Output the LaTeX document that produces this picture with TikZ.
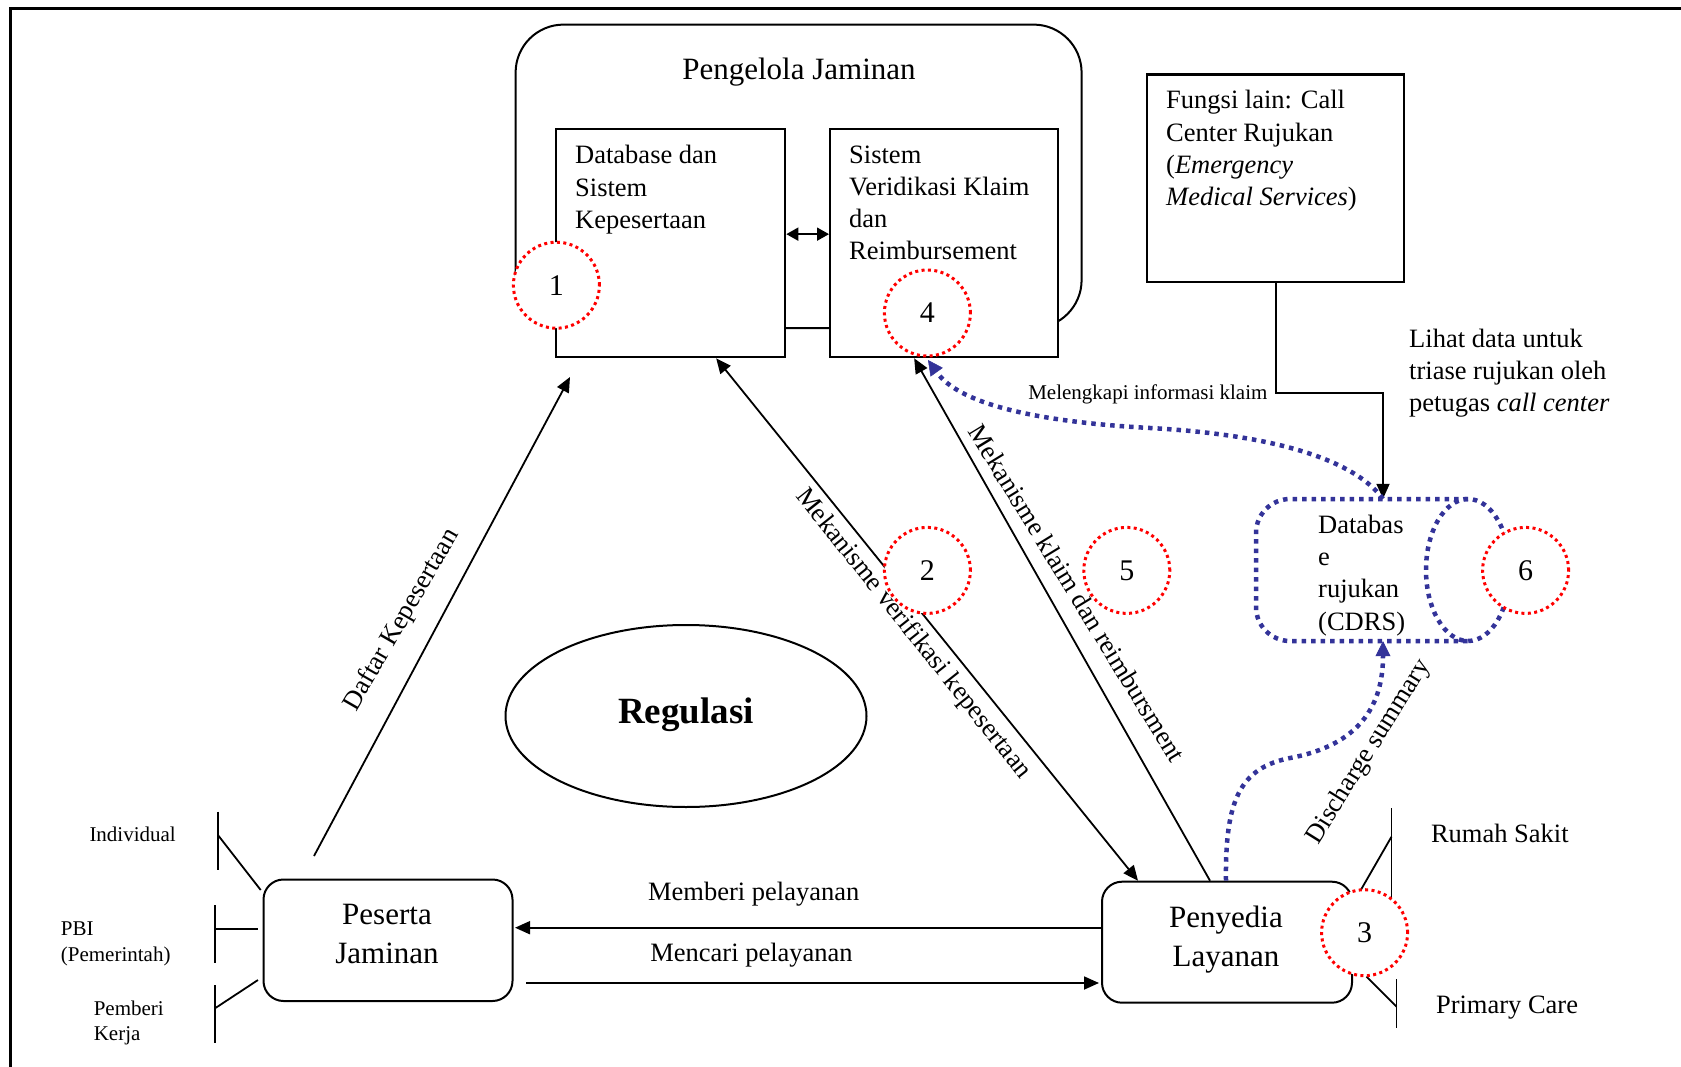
\documentclass[tikz,border=0pt]{standalone}
\usepackage{fontspec}
\setmainfont{Liberation Serif}
\usetikzlibrary{arrows.meta,shapes.geometric}
\definecolor{cdblue}{RGB}{51,51,153}
\newcommand{\myfa}{\fontsize{26.5}{32.2}\selectfont}
\newcommand{\myfb}{\fontsize{31}{39}\selectfont}
\newcommand{\myfc}{\fontsize{21}{25.5}\selectfont}
\newcommand{\myfn}{\fontsize{30}{36}\selectfont}
\newcommand{\myfr}{\fontsize{37}{44}\selectfont}
\begin{document}
\begin{tikzpicture}[x=1pt,y=-1pt,
  box/.style={draw, line width=2.3pt, fill=white, inner sep=0pt, anchor=north west},
  rbox/.style={draw, line width=2pt, rounded corners=20pt, fill=white, inner sep=0pt, anchor=north west},
  txt/.style={inner sep=0pt, align=left, font=\myfa, anchor=north west},
  small/.style={inner sep=0pt, align=left, font=\myfc},
  num/.style={circle, draw=red, fill=white, line width=3pt, dash pattern=on 3pt off 3.4pt, minimum size=86pt, inner sep=0pt, font=\myfn},
  conn/.style={line width=1.8pt, -{Triangle[length=15pt,width=13pt]}},
  dconn/.style={line width=1.8pt, {Triangle[length=15pt,width=13pt]}-{Triangle[length=15pt,width=13pt]}},
  plain/.style={line width=1.8pt},
  bconn/.style={color=cdblue, line width=4.5pt, dash pattern=on 4.5pt off 5pt, -{Triangle[length=15pt,width=15pt,line width=0.5pt]}},
  bdot/.style={draw=cdblue, line width=4.5pt, dash pattern=on 4.5pt off 5pt},
  rot/.style={inner sep=0pt, font=\myfa}
]
\useasboundingbox (0,0) rectangle (1681,1067);
% outer frame
\draw[line width=3pt] (10,1067) -- (10,9) -- (1681,9);

% Pengelola Jaminan
\node[draw, line width=2pt, rounded corners=48pt, minimum width=566pt, minimum height=303.4pt, inner sep=0pt, anchor=north west] (pj) at (514.6,23.6) {};
\node[inner sep=0pt, font=\myfb, anchor=base] (pjt) at (799,80) {Pengelola Jaminan};
\node[box, minimum width=229pt, minimum height=228pt] (db) at (555,128) {};
\node[box, minimum width=228pt, minimum height=228pt] (sv) at (829,128) {};
\node[txt] (dbt) at (575,145.3) {Database dan\\Sistem\\Kepesertaan};
\node[txt] (svt) at (849,145.3) {Sistem\\Veridikasi Klaim\\dan\\Reimbursement};
\draw[line width=1.8pt, {Triangle[length=12pt,width=13pt]}-{Triangle[length=12pt,width=13pt]}] ([yshift=9pt]db.east) -- ([yshift=9pt]sv.west);

% Fungsi lain
\node[box, minimum width=257pt, minimum height=207.5pt] (fb) at (1146,73.3) {};
\node[txt] (fbt) at (1166,90.3) {Fungsi lain: Call\\Center Rujukan\\(\textit{Emergency}\\\textit{Medical Services})};
\node[txt] (lih) at (1409,329) {Lihat data untuk\\triase rujukan oleh\\petugas \textit{call center}};

% CDRS
\node[minimum width=254pt, minimum height=142pt, inner sep=0pt] (cdrs) at (1383,570) {};
\draw[bdot, rounded corners=34pt] (1468,499) -- (1256,499) -- (1256,641) -- (1468,641);
\draw[bdot] (1468,570) ellipse [x radius=42, y radius=71];
\node[txt] (cdrst) at (1318,515) {Databas\\e\\rujukan\\(CDRS)};
\draw[conn] (fb.south) -- ++(0,109.5) -| (cdrs.north);

% Regulasi
\node[draw, ellipse, line width=2pt, minimum width=361pt, minimum height=182pt, inner sep=0pt] (reg) at (686,716) {};
\node[inner sep=0pt, font=\myfr\bfseries, anchor=base] (regt) at (686,723.6) {Regulasi};

% Peserta / Penyedia
\node[rbox, minimum width=249pt, minimum height=121.5pt] (pes) at (262.5,878.5) {};
\node[inner sep=0pt, font=\myfb, align=center] (pest) at (387,934) {Peserta\\Jaminan};
\node[rbox, minimum width=250pt, minimum height=121pt] (pen) at (1101,880.7) {};
\node[inner sep=0pt, font=\myfb, align=center] (pent) at (1226,939.5) {Penyedia\\Layanan};

% horizontal arrows
\draw[conn] ([yshift=14.5pt]pen.west) -- ([xshift=1.5pt,yshift=12.55pt]pes.east);
\node[inner sep=0pt, font=\myfa, anchor=base] (mb) at (753.7,900.6) {Memberi pelayanan};
\draw[conn] ([xshift=12.6pt,yshift=-42.75pt]pes.east) -- ([xshift=-2pt,yshift=-40.8pt]pen.west);
\node[inner sep=0pt, font=\myfa, anchor=base] (mc) at (751.5,961.7) {Mencari pelayanan};

% Daftar Kepesertaan
\coordinate (dafS) at (314,856);
\coordinate (dafE) at (570,377);
\draw[conn] (dafS) -- (dafE);
\node[rot, rotate=60] (daft) at (402,620) {Daftar Kepesertaan};

% verifikasi
\draw[dconn] ([xshift=45.5pt]db.south) -- ([xshift=-89pt]pen.north);
\node[rot, rotate=-51.5] (vert) at (913,634) {Mekanisme verifikasi kepesertaan};

% klaim
\draw[conn] ([xshift=-17pt]pen.north) -- ([xshift=-30pt]sv.south);
\node[rot, rotate=-58.5] (klt) at (1077,593) {Mekanisme klaim dan reimbursment};

% blue curves
\draw[bconn] (cdrs.north) .. controls (1350,455) and (1260,434) .. (1150,428) .. controls (1040,422) and (960,405) .. (928,360);
\node[small, anchor=base east] (mel) at (1267.6,399.3) {Melengkapi informasi klaim};
\draw[bconn] ([xshift=-1pt]pen.north) .. controls (1225,800) and (1240,768) .. (1290,758) .. controls (1360,745) and (1383,705) .. (cdrs.south);
\node[rot, rotate=58] (dis) at (1369,752) {Discharge summary};

% participant categories
\node[small, anchor=base west] (ind) at (89.3,841.7) {Individual};
\node[small, anchor=base west] (pbi) at (60.7,935) {PBI};
\node[small, anchor=base west] (pem) at (60.7,961) {(Pemerintah)};
\node[small, anchor=base west] (pbk) at (93.6,1015) {Pemberi};
\node[small, anchor=base west] (krj) at (93.6,1040.5) {Kerja};
\coordinate (i1) at (217.9,811.7); \coordinate (i2) at (217.9,870); \coordinate (i3) at (217.9,835); \coordinate (i4) at (260.7,890);
\draw[plain] (i1) -- (i2); \draw[plain] (i3) -- (i4);
\coordinate (p1) at (215,905); \coordinate (p2) at (215,963.3); \coordinate (p3) at (215,929); \coordinate (p4) at (258,929);
\draw[plain] (p1) -- (p2); \draw[plain] (p3) -- (p4);
\coordinate (k1) at (215,985); \coordinate (k2) at (215,1043); \coordinate (k3) at (215,1008.3); \coordinate (k4) at (258,980);
\draw[plain] (k1) -- (k2); \draw[plain] (k3) -- (k4);

% provider categories
\node[inner sep=0pt, font=\myfa, anchor=base west] (rs) at (1430.8,842.7) {Rumah Sakit};
\node[inner sep=0pt, font=\myfa, anchor=base west] (pc) at (1435.8,1013.3) {Primary Care};
\coordinate (r1) at (1391.5,808); \coordinate (r2) at (1391.5,900); \coordinate (r3) at (1391.5,836.7); \coordinate (r4) at (1360.8,890);
\draw[plain] (r1) -- (r2); \draw[plain] (r3) -- (r4);
\coordinate (q1) at (1396.5,979); \coordinate (q2) at (1396.5,1028); \coordinate (q3) at (1396.5,1006.7); \coordinate (q4) at (1366.5,976.7);
\draw[plain] (q1) -- (q2); \draw[plain] (q3) -- (q4);

% numbered circles
\node[num] (n1) at (556.4,285.2) {1};
\node[num] (n4) at (927.4,313) {4};
\node[num] (n2) at (927.4,570.4) {2};
\node[num] (n5) at (1126.8,570.4) {5};
\node[num] (n6) at (1525.6,570.4) {6};
\node[num] (n3) at (1364.6,932.7) {3};
\end{tikzpicture}
\end{document}
